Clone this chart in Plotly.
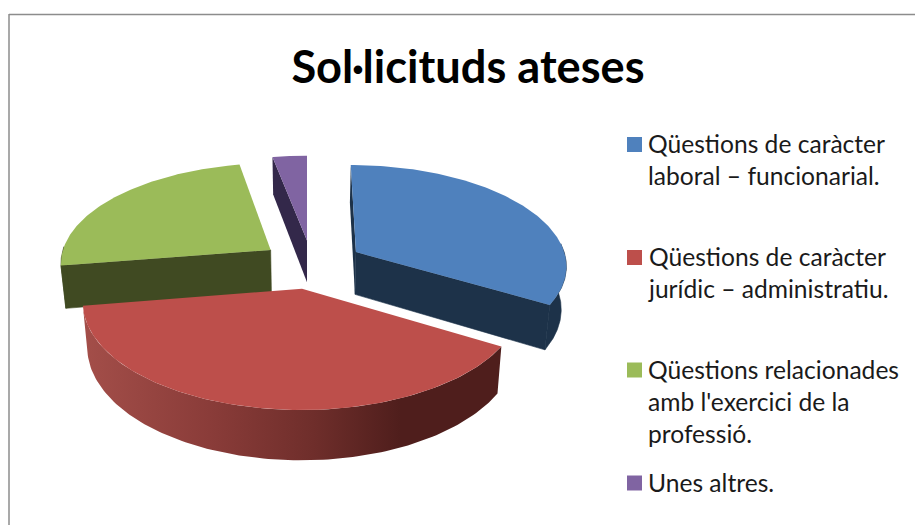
import numpy as np
import plotly.graph_objects as go

# ---- data ----
title_text = "Sol·licituds ateses"
categories = [
    "Qüestions de caràcter<br>laboral – funcionarial.",
    "Qüestions de caràcter<br>jurídic – administratiu.",
    "Qüestions relacionades<br>amb l'exercici de la<br>professió.",
    "Unes altres.",
]
values = [33.5, 39.0, 24.5, 3.0]

# ---- style ----
top_colors = ["#4f81bd", "#bd4f4b", "#9bbb59", "#8064a2"]
wall_colors = ["#1d3249", "#4f1e1c", "#404a22", "#33284a"]
red_gradient = [[0, "#a34e49"], [0.3, "#8a3c39"], [0.55, "#6f2e2b"], [0.76, "#4f1e1c"], [1, "#4f1e1c"]]
FONT = "Lato"

# ---- projection of the tilted pie (axes are in page pixels) ----
CX, CY, RX, RY, K = 307.0, 267.0, 212.0, 101.0, 0.12
DEPTH, SHRINK = 43.0, 0.98
offsets = [(0.235, 0.15), (-0.023, -0.21), (-0.175, 0.172), (0.0, 0.27)]  # explosion in disc units


def project(u, v, bottom=False):
    s = 1.0 / (1.0 + K * v)
    x = CX + RX * u * s
    y = CY - RY * v * s
    if bottom:
        x = CX + (x - CX) * SHRINK
        y = y + DEPTH * s
    return x, y


def rim(i, a0, a1, bottom=False, n=120):
    t = np.radians(np.linspace(a0, a1, n))
    ou, ov = offsets[i]
    return project(ou + np.sin(t), ov + np.cos(t), bottom)


def apex(i, bottom=False):
    ou, ov = offsets[i]
    x, y = project(ou, ov, bottom)
    return np.array([x]), np.array([y])


def radial_face(i, a):
    ax, ay = apex(i)
    bx, by = apex(i, True)
    rx, ry = rim(i, a, a, n=1)
    qx, qy = rim(i, a, a, True, n=1)
    return np.concatenate([ax, rx, qx, bx, ax]), np.concatenate([ay, ry, qy, by, ay])


def wall(i, a0, a1):
    x0, y0 = rim(i, a0, a1)
    x1, y1 = rim(i, a0, a1, True)
    return np.concatenate([x0, x1[::-1], x0[:1]]), np.concatenate([y0, y1[::-1], y0[:1]])


def top(i, a0, a1):
    ax, ay = apex(i)
    x0, y0 = rim(i, a0, a1)
    return np.concatenate([ax, x0, ax]), np.concatenate([ay, y0, ay])


edges = np.concatenate([[0], np.cumsum(values)]) / np.sum(values) * 360.0
fig = go.Figure()


def poly(xy, color, name, gradient=None, lw=0):
    tr = go.Scatter(x=xy[0], y=xy[1], mode="lines", fill="toself", line=dict(width=lw, color=color),
                    fillcolor=color, name=name, showlegend=False, hoverinfo="name")
    if gradient:
        tr.fillgradient = gradient
    fig.add_trace(tr)


names = [c.replace("<br>", " ") for c in categories]
# painter's order: purple, green, blue, red
# purple
poly(radial_face(3, edges[3]), wall_colors[3], names[3])
poly(top(3, edges[3], edges[4]), top_colors[3], names[3])
# green
poly(radial_face(2, edges[2]), wall_colors[2], names[2], lw=0.6)
poly(wall(2, edges[2], 272), wall_colors[2], names[2], lw=0.6)
poly(top(2, edges[2], edges[3]), top_colors[2], names[2])
# blue
poly(radial_face(0, edges[0]), wall_colors[0], names[0])
poly(radial_face(0, edges[1]), wall_colors[0], names[0], lw=0.6)
poly(wall(0, 85, edges[1]), wall_colors[0], names[0], lw=0.6)
poly(top(0, edges[0], edges[1]), top_colors[0], names[0])
# red
poly(wall(1, edges[1], edges[2]), wall_colors[1], names[1],
     gradient=dict(type="horizontal", colorscale=red_gradient, start=85, stop=500))
poly(top(1, edges[1], edges[2]), top_colors[1], names[1])

# legend: swatch on the first line of each entry
legend_y = [144.5, 257.5, 370, 483]
legend_x = 634.5
text_x = 649
for name, c, y, col in zip(names, categories, legend_y, top_colors):
    fig.add_trace(go.Scatter(x=[legend_x], y=[y], mode="markers", name=name, showlegend=False,
                             marker=dict(symbol="square", size=15, color=col, line=dict(width=0)),
                             hoverinfo="name"))
    fig.add_annotation(x=text_x, y=y - 16.5, xref="x", yref="y", text=c, showarrow=False,
                       xanchor="left", yanchor="top", align="left", xshift=-2, borderpad=0,
                       font=dict(family=FONT, size=24.6, color="#1a1a1a"))

fig.update_layout(
    width=915, height=525, margin=dict(l=0, r=0, t=0, b=0, pad=0),
    paper_bgcolor="white", plot_bgcolor="white", showlegend=False,
    title=dict(text=title_text, x=468 / 915, y=1 - 67 / 525, xref="paper", yref="paper",
               xanchor="center", yanchor="middle",
               font=dict(family=FONT, size=45.2, weight=700, color="#000000")),
    xaxis=dict(range=[0, 915], visible=False, fixedrange=True),
    yaxis=dict(range=[525, 0], visible=False, fixedrange=True),
    shapes=[
        dict(type="line", xref="x", yref="y", x0=9, x1=9, y0=14, y1=525, line=dict(color="#8c8c8c", width=1.5)),
        dict(type="line", xref="x", yref="y", x0=9, x1=915, y0=14.5, y1=14.5, line=dict(color="#8c8c8c", width=1.5)),
    ],
)
fig.write_html("out.html", config=dict(displayModeBar=False),
               post_script=("document.body.style.margin='0';document.body.style.overflow='hidden';"
                            "var s=document.createElement('style');"
                            "s.textContent='svg text{font-variant-ligatures:none;}';"
                            "document.head.appendChild(s);"))
